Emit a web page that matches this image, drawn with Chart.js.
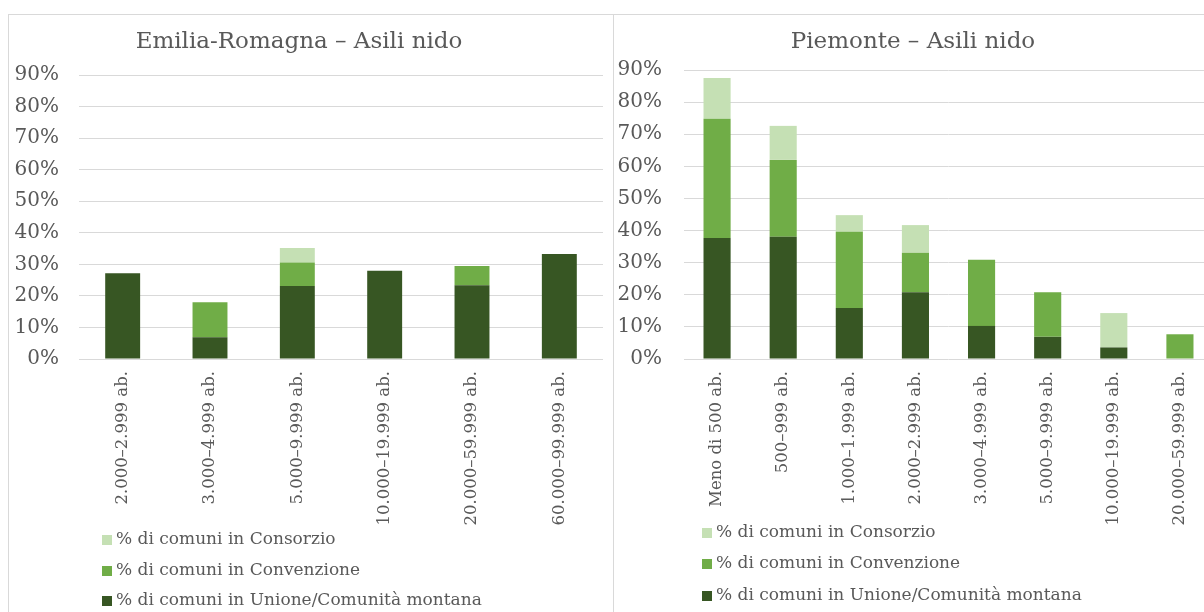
<!DOCTYPE html>
<html><head><meta charset="utf-8">
<script src="https://cdn.jsdelivr.net/npm/chart.js@4.4.1/dist/chart.umd.min.js"></script>
<style>
html,body{margin:0;padding:0;width:1204px;height:612px;overflow:hidden;background:#fff;position:relative}
.panel{position:absolute;border:1px solid #d9d9d9;box-sizing:border-box}
#p1{left:8px;top:14px;width:606px;height:640px}
#p2{left:613px;top:14px;width:640px;height:640px}
canvas{position:absolute;top:0}
#c1{left:-5px}
#c2{left:613px}
</style></head>
<body>
<div class="panel" id="p1"></div>
<div class="panel" id="p2"></div>
<canvas id="c1" width="608" height="620"></canvas>
<canvas id="c2" width="600" height="620"></canvas>
<script>
// ---- data ----
const erCategories = ['2.000–2.999 ab.','3.000–4.999 ab.','5.000–9.999 ab.','10.000–19.999 ab.','20.000–59.999 ab.','60.000–99.999 ab.'];
const erUnione     = [27.2, 6.9, 23.1, 28.0, 23.4, 33.3];
const erConvenz    = [null, 11.1, 7.5, null, 6.1, null];
const erConsorzio  = [null, null, 4.6, null, null, null];

const piCategories = ['Meno di 500 ab.','500–999 ab.','1.000–1.999 ab.','2.000–2.999 ab.','3.000–4.999 ab.','5.000–9.999 ab.','10.000–19.999 ab.','20.000–59.999 ab.'];
const piUnione     = [37.7, 38.1, 15.9, 20.8, 10.3, 6.9, 3.6, null];
const piConvenz    = [37.1, 23.9, 23.7, 12.3, 20.6, 13.9, null, 7.7];
const piConsorzio  = [12.7, 10.6, 5.2, 8.6, null, null, 10.7, null];

const seriesNames = ['% di comuni in Unione/Comunità montana','% di comuni in Convenzione','% di comuni in Consorzio'];
const yTicks = [0,10,20,30,40,50,60,70,80,90];

const DARK='#375623', MID='#70ad47', LIGHT='#c5e0b4';
const FONT='"DejaVu Serif", serif';
const TXT='#595959';

const vLegend = {
  id:'vlegend',
  afterDraw(chart, args, opts){
    const ctx = chart.ctx;
    ctx.save();
    ctx.font = '17px ' + FONT;
    ctx.textBaseline = 'middle';
    ctx.textAlign = 'left';
    const order = [2,1,0];
    order.forEach((di, k) => {
      const ds = chart.data.datasets[di];
      const y = opts.ys[k];
      ctx.fillStyle = ds.backgroundColor;
      ctx.fillRect(opts.x, y - 5, 10, 10);
      ctx.fillStyle = TXT;
      ctx.fillText(ds.label, opts.x + 14, y);
    });
    ctx.restore();
  }
};

function makeChart(id, labels, union, conv, cons, title, cfg){
  return new Chart(document.getElementById(id), {
    type:'bar',
    data:{labels, datasets:[
      {label:seriesNames[0], data:union, backgroundColor:DARK},
      {label:seriesNames[1], data:conv, backgroundColor:MID},
      {label:seriesNames[2], data:cons, backgroundColor:LIGHT}
    ]},
    options:{
      responsive:false, animation:false,
      layout:{padding:{left:0,right:0,top:0,bottom:cfg.padB}},
      datasets:{bar:{barPercentage:cfg.bp, categoryPercentage:1}},
      plugins:{
        legend:{display:false}, tooltip:{enabled:false},
        title:{display:true, text:title, color:TXT, font:{family:FONT,size:23,weight:'normal'}, padding:{top:28,bottom:cfg.tB}},
        vlegend:{x:cfg.legX, ys:cfg.legY}
      },
      scales:{
        x:{stacked:true, grid:{display:false, drawTicks:false}, border:{display:false},
           ticks:{color:TXT, font:{family:FONT,size:16.5}, maxRotation:90, minRotation:90, autoSkip:false, padding:12},
           afterFit(s){ s.height = cfg.xH; }},
        y:{stacked:true, min:0, max:90,
           afterBuildTicks(s){ s.ticks = yTicks.map(v=>({value:v})); },
           ticks:{color:TXT, font:{family:FONT,size:20}, padding:cfg.yPad, callback:v=>v+'%'},
           grid:{color:'#d9d9d9', drawTicks:false}, border:{display:false},
           afterFit(s){ s.width = cfg.yW; }}
      }
    },
    plugins:[vLegend]
  });
}

makeChart('c1', erCategories, erUnione, erConvenz, erConsorzio, 'Emilia-Romagna – Asili nido',
  {padB:86, xH:175, bp:0.40, tB:19.4, yW:84, yPad:20, legX:107, legY:[540,571,601]});
makeChart('c2', piCategories, piUnione, piConvenz, piConsorzio, 'Piemonte – Asili nido',
  {padB:86, xH:175, bp:0.41, tB:14.4, yW:71, yPad:22, legX:89, legY:[533,564,596]});
</script>
</body></html>
